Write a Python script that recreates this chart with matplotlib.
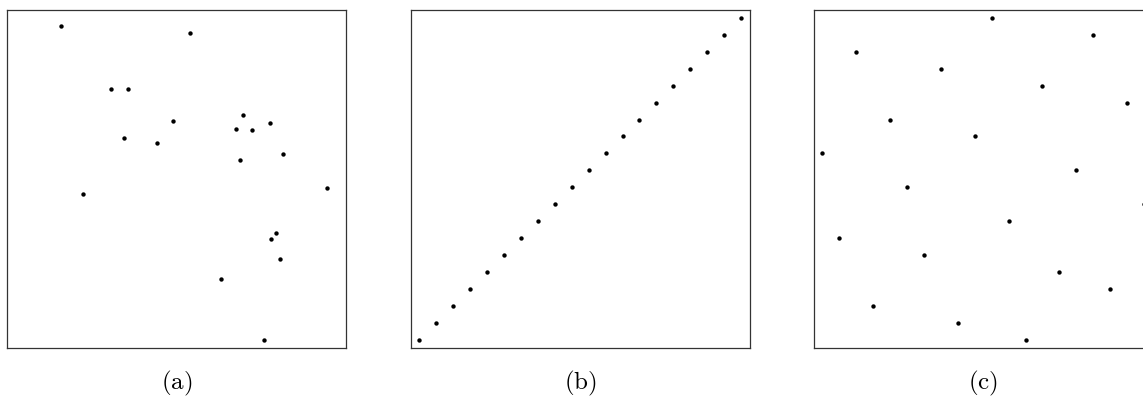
import matplotlib
matplotlib.use('Agg')
import matplotlib.pyplot as plt

plt.rcParams['mathtext.fontset'] = 'cm'

# (a) scattered points
xa = [0.159, 0.540, 0.306, 0.357, 0.490, 0.345, 0.442, 0.697, 0.677, 0.724,
      0.777, 0.813, 0.688, 0.223, 0.944, 0.794, 0.780, 0.805, 0.630, 0.758]
ya = [0.950, 0.931, 0.764, 0.764, 0.672, 0.621, 0.605, 0.688, 0.646, 0.644,
      0.664, 0.574, 0.555, 0.454, 0.474, 0.340, 0.321, 0.262, 0.204, 0.025]

# (b) diagonal points
xb = [0.025, 0.075, 0.125, 0.175, 0.225, 0.275, 0.325, 0.375, 0.425, 0.475,
      0.525, 0.575, 0.625, 0.675, 0.725, 0.775, 0.825, 0.875, 0.925, 0.975]
yb = [0.025, 0.075, 0.125, 0.175, 0.225, 0.275, 0.325, 0.375, 0.425, 0.475,
      0.525, 0.575, 0.625, 0.675, 0.725, 0.775, 0.825, 0.875, 0.925, 0.975]

# (c) latin hypercube points
xc = [0.525, 0.825, 0.125, 0.375, 0.675, 0.925, 0.225, 0.475, 0.025, 0.775,
      0.275, 0.975, 0.575, 0.075, 0.325, 0.725, 0.875, 0.175, 0.425, 0.625]
yc = [0.975, 0.925, 0.875, 0.825, 0.775, 0.725, 0.675, 0.625, 0.575, 0.525,
      0.475, 0.425, 0.375, 0.325, 0.275, 0.225, 0.175, 0.125, 0.075, 0.025]

labels = ['(a)', '(b)', '(c)']

W, H = 1143, 398
fig = plt.figure(figsize=(W / 100, H / 100), dpi=100)

lefts = [7.3, 411, 814]
size = 338.5
top = 9.5

for left, xs, ys, lab in zip(lefts, [xa, xb, xc], [ya, yb, yc], labels):
    ax = fig.add_axes([left / W, (H - top - size) / H, size / W, size / H])
    ax.scatter(xs, ys, s=10, color='black', linewidths=0)
    ax.set_xlim(0, 1)
    ax.set_ylim(0, 1)
    ax.set_xticks([])
    ax.set_yticks([])
    for sp in ax.spines.values():
        sp.set_color('#333333')
        sp.set_linewidth(0.9)
    fig.text((left + size / 2) / W, (H - 383) / H, r'$\mathrm{' + lab + '}$',
             ha='center', va='center', fontsize=18)

fig.savefig('out.png', dpi=100)
